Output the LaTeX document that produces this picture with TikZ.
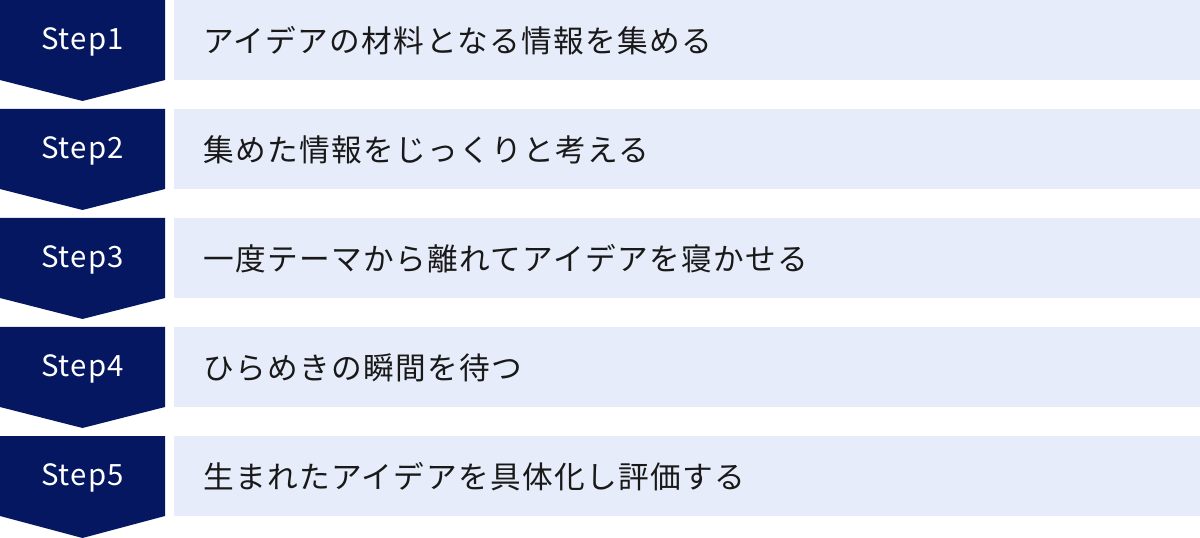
\documentclass[tikz,border=0pt]{standalone}
\usepackage{fontspec}
\setmainfont{Noto Sans CJK JP}
\newfontfamily\stepfont[LetterSpace=4]{Noto Sans CJK JP}
\newfontfamily\jpfont[LetterSpace=4.5]{Noto Sans CJK JP}
\usepackage{tikz}

\definecolor{stepnavy}{RGB}{5,23,96}
\definecolor{rowblue}{RGB}{230,236,249}

\begin{document}
\begin{tikzpicture}[x=0.75pt, y=-0.75pt,
    steplabel/.style = {text=white, font=\stepfont\fontsize{22}{26}\selectfont, inner sep=0pt},
    rowlabel/.style = {text=black!90, font=\jpfont\fontsize{23}{28}\selectfont, inner sep=0pt, anchor=west},
    chevron/.style = {fill=stepnavy},
    rowbox/.style = {fill=rowblue}]
    \useasboundingbox (0,0) rectangle (1200,538);

    % chevrons
    \fill[chevron] (0,0) -- (165,0) -- (165,80) -- (82.5,101) -- (0,80) -- cycle;
    \fill[chevron] (0,109) -- (165,109) -- (165,189) -- (82.5,210) -- (0,189) -- cycle;
    \fill[chevron] (0,218) -- (165,218) -- (165,298) -- (82.5,319) -- (0,298) -- cycle;
    \fill[chevron] (0,327) -- (165,327) -- (165,407) -- (82.5,428) -- (0,407) -- cycle;
    \fill[chevron] (0,436) -- (165,436) -- (165,516) -- (82.5,538) -- (0,516) -- cycle;

    % rows
    \fill[rowbox] (174,0) rectangle (1200,80);
    \fill[rowbox] (174,109) rectangle (1200,189);
    \fill[rowbox] (174,218) rectangle (1200,298);
    \fill[rowbox] (174,327) rectangle (1200,407);
    \fill[rowbox] (174,436) rectangle (1200,516);

    \node[steplabel] (s1) at (82.5,42) {Step1};
    \node[steplabel] (s2) at (82.5,151) {Step2};
    \node[steplabel] (s3) at (82.5,260) {Step3};
    \node[steplabel] (s4) at (82.5,369) {Step4};
    \node[steplabel] (s5) at (82.5,478) {Step5};

    \node[rowlabel] (t1) at (203,41) {アイデアの材料となる情報を集める};
    \node[rowlabel] (t2) at (203,150) {集めた情報をじっくりと考える};
    \node[rowlabel] (t3) at (203,259) {一度テーマから離れてアイデアを寝かせる};
    \node[rowlabel] (t4) at (203,368) {ひらめきの瞬間を待つ};
    \node[rowlabel] (t5) at (203,477) {生まれたアイデアを具体化し評価する};
\end{tikzpicture}
\end{document}
